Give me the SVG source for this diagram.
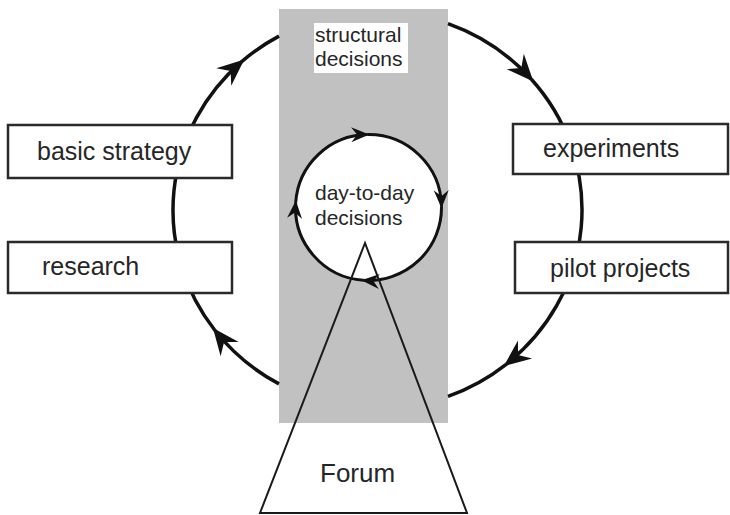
<svg xmlns="http://www.w3.org/2000/svg" width="730" height="515" viewBox="0 0 730 515">
<style>
.lbl{font-family:"Liberation Sans",Arial,sans-serif;fill:#262626}
.box{fill:#fff;stroke:#2a2a2a;stroke-width:2.5}
.big{fill:none;stroke:#111;stroke-width:3.5}
.small{fill:none;stroke:#111;stroke-width:3}
</style>
<defs>
<marker id="ah" markerUnits="userSpaceOnUse" markerWidth="32" markerHeight="28" viewBox="-28 -14 32 28" refX="0" refY="0" orient="auto">
<path d="M3,0 L-24,-11.5 L-15,0 L-24,11.5 Z" fill="#111"/>
</marker>
<marker id="ahs" markerUnits="userSpaceOnUse" markerWidth="22" markerHeight="18" viewBox="-19 -9 22 18" refX="0" refY="0" orient="auto">
<path d="M2,0 L-16,-7.5 L-10,0 L-16,7.5 Z" fill="#111"/>
</marker>
</defs>
<rect width="730" height="515" fill="#fff"/>
<g id="structural-decisions">
<rect x="279" y="9" width="169" height="414" fill="#c1c1c1"/>
<rect x="314" y="23" width="94" height="50" fill="#fff"/>
<text class="lbl" x="315" y="42" font-size="21">structural</text>
<text class="lbl" x="315" y="66" font-size="21">decisions</text>
</g>
<g id="day-to-day-decisions">
<circle cx="368.5" cy="207.5" r="73" fill="#fff"/>
<text class="lbl" x="315" y="200" font-size="21">day-to-day</text>
<text class="lbl" x="315" y="225" font-size="21">decisions</text>
</g>
<g id="connectors">
<path class="big" d="M214.83,330.29 A204.5,198.5 0 0 1 241.99,61.33" marker-end="url(#ah)"/>
<path class="big" d="M241.99,61.33 A204.5,198.5 0 0 1 279,36.1"/>
<path class="big" d="M448,23.7 A204.5,198.5 0 0 1 531.36,79.24" marker-end="url(#ah)"/>
<path class="big" d="M531.36,79.24 A204.5,198.5 0 0 1 506.2,364.26" marker-end="url(#ah)"/>
<path class="big" d="M506.2,364.26 A204.5,198.5 0 0 1 448,396.3"/>
<path class="big" d="M279,383.9 A204.5,198.5 0 0 1 214.83,330.29" marker-end="url(#ah)"/>
<path class="small" d="M295.7,202.4 A73,73 0 0 1 367.2,134.5" marker-end="url(#ahs)"/>
<path class="small" d="M367.2,134.5 A73,73 0 0 1 441.5,206.2" marker-end="url(#ahs)"/>
<path class="small" d="M441.5,206.2 A73,73 0 0 1 363.4,280.3" marker-end="url(#ahs)"/>
<path class="small" d="M363.4,280.3 A73,73 0 0 1 295.7,202.4" marker-end="url(#ahs)"/>
</g>
<g id="basic-strategy">
<rect class="box" x="8" y="125" width="224" height="53"/>
<text class="lbl" x="37" y="160" font-size="25">basic strategy</text>
</g>
<g id="research">
<rect class="box" x="8" y="242" width="224" height="51"/>
<text class="lbl" x="42" y="275" font-size="25">research</text>
</g>
<g id="experiments">
<rect class="box" x="513" y="124" width="215" height="50"/>
<text class="lbl" x="543" y="157" font-size="25">experiments</text>
</g>
<g id="pilot-projects">
<rect class="box" x="515" y="242" width="213" height="51"/>
<text class="lbl" x="550" y="277" font-size="25">pilot projects</text>
</g>
<g id="forum">
<polygon points="365,243 260,513 467,513" fill="none" stroke="#1a1a1a" stroke-width="2"/>
<text class="lbl" x="320" y="482" font-size="26">Forum</text>
</g>
</svg>
